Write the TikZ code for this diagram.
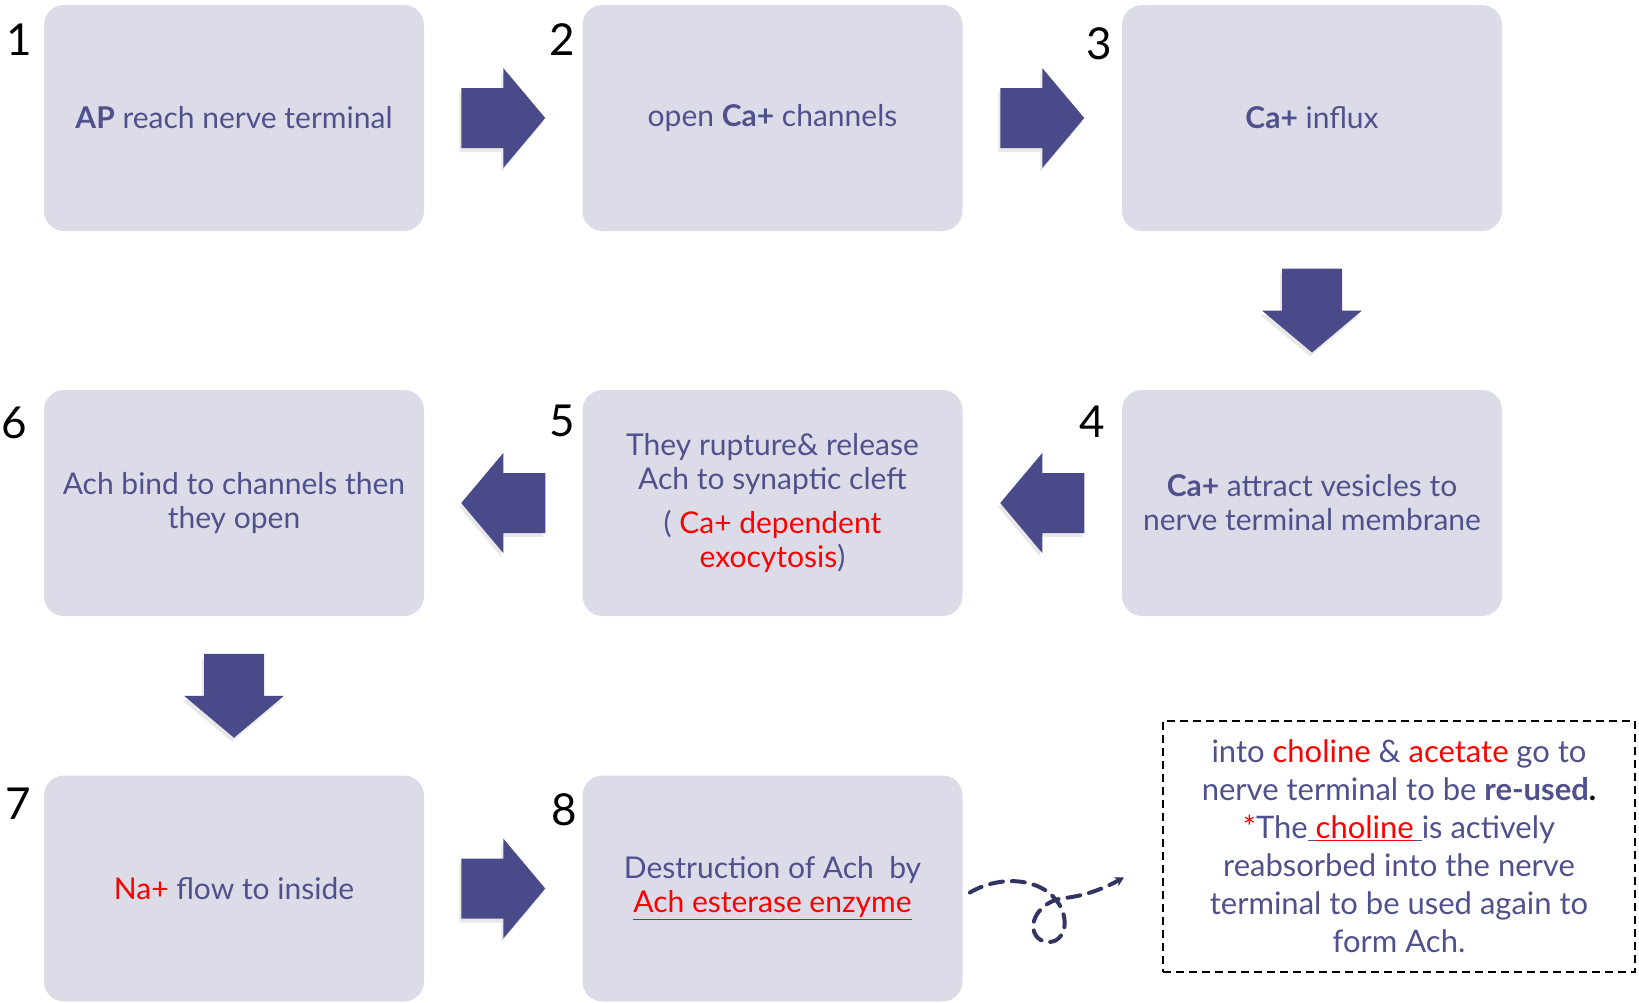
\documentclass[tikz,border=0pt]{standalone}
\usepackage{fontspec}
\setmainfont{Lato}
\usetikzlibrary{shadows,calc,positioning,arrows.meta}

\definecolor{boxfill}{RGB}{220,220,233}
\definecolor{ink}{RGB}{80,81,140}
\definecolor{arrowfill}{RGB}{74,74,138}
\definecolor{curlink}{RGB}{52,52,96}

\tikzset{every picture/.style={line width=0.75pt}}
\tikzset{
  stepbox/.style={draw=none, fill=boxfill, rounded corners=20, minimum width=380, minimum height=226, inner sep=0, align=center, text=ink, font=\fontsize{30}{34}\selectfont},
  stepnum/.style={font=\fontsize{44}{44}\selectfont, inner sep=0},
  notebox/.style={draw=black, line width=2, dash pattern=on 8pt off 5pt, minimum width=472, minimum height=251, inner sep=0, align=center, text=ink, font=\fontsize{31}{38}\selectfont},
  blockarr/.pic={
    \fill [arrowfill, drop shadow={shadow xshift=-2pt, shadow yshift=-4pt, opacity=0.18}] (-42,-30) -- (0,-30) -- (0,-50) -- (42,0) -- (0,50) -- (0,30) -- (-42,30) -- cycle;
  },
}

\begin{document}
\begin{tikzpicture}[x=1pt,y=1pt,yscale=-1,xscale=1]
        \useasboundingbox (0,0) rectangle (1639,1002);

        %Boxes, row 1
        \node [stepbox] (b1) at (234,118) {\textbf{AP} reach nerve terminal};
        \node [stepbox] (b2) at (772.5,118) {open \textbf{Ca+} channels};
        \node [stepbox] (b3) at (1312,118) {\textbf{Ca+} influx};
        %Boxes, row 2
        \node [stepbox] (b4) at (1312,503) {\textbf{Ca+} attract vesicles to\\nerve terminal membrane};
        \node [stepbox] (b5) at (772.5,503) {They rupture\& release\\Ach to synaptic cleft\\[10pt]( {\color{red}Ca+ dependent}\\{\color{red}exocytosis})};
        \node [stepbox] (b6) at (234,503) {Ach bind to channels then\\they open};
        %Boxes, row 3
        \node [stepbox] (b7) at (234,888.5) {{\color{red}Na+} flow to inside};
        \node [stepbox] (b8) at (772.5,888.5) {Destruction of Ach~ by\\{\color{red}\underline{Ach esterase enzyme}}};

        %Step numbers
        \node [stepnum] (n1) at (19,40) {1};
        \node [stepnum] (n2) at (562,40) {2};
        \node [stepnum] (n3) at (1099,44) {3};
        \node [stepnum] (n4) at (1092,422) {4};
        \node [stepnum] (n5) at (562,421) {5};
        \node [stepnum] (n6) at (14,423) {6};
        \node [stepnum] (n7) at (18,804) {7};
        \node [stepnum] (n8) at (564,810) {8};

        %Block arrows
        \pic (a12) at ($(b1.east)!0.5!(b2.west)$) {blockarr};
        \pic (a23) at ($(b2.east)!0.5!(b3.west)$) {blockarr};
        \pic [rotate=-90] (a34) at ($(b3.south)!0.5!(b4.north)$) {blockarr};
        \pic [rotate=180] (a45) at ($(b4.west)!0.5!(b5.east)$) {blockarr};
        \pic [rotate=180] (a56) at ($(b5.west)!0.5!(b6.east)$) {blockarr};
        \pic [rotate=-90] (a67) at ($(b6.south)!0.5!(b7.north)$) {blockarr};
        \pic (a78) at ($(b7.east)!0.5!(b8.west)$) {blockarr};

        %Note
        \node [notebox] (note) at (1399,846.5) {into {\color{red}choline} \& {\color{red}acetate} go to\\nerve terminal to be \textbf{re-used}{\color{black}\textbf{.}}\\{\color{red}*}The\underline{\ }{\color{red}\underline{choline}}\underline{\ }is actively\\reabsorbed into the nerve\\terminal to be used again to\\form Ach.};

        %Curly dashed arrow
        \coordinate (cs) at ($(b8.east)+(7,4)$);
        \coordinate (ce) at ($(note.west)+(-38,31)$);
        \draw [curlink, line width=4, dash pattern=on 13pt off 9pt, line cap=round, -{Stealth[length=9pt,width=10pt]}] (cs) .. controls (1005,872) and (1050,880) .. (1062,910) .. controls (1072,935) and (1052,950) .. (1038,938) .. controls (1025,925) and (1040,900) .. (1065,898) .. controls (1090,895) and (1108,886) .. (ce);

\end{tikzpicture}
\end{document}
